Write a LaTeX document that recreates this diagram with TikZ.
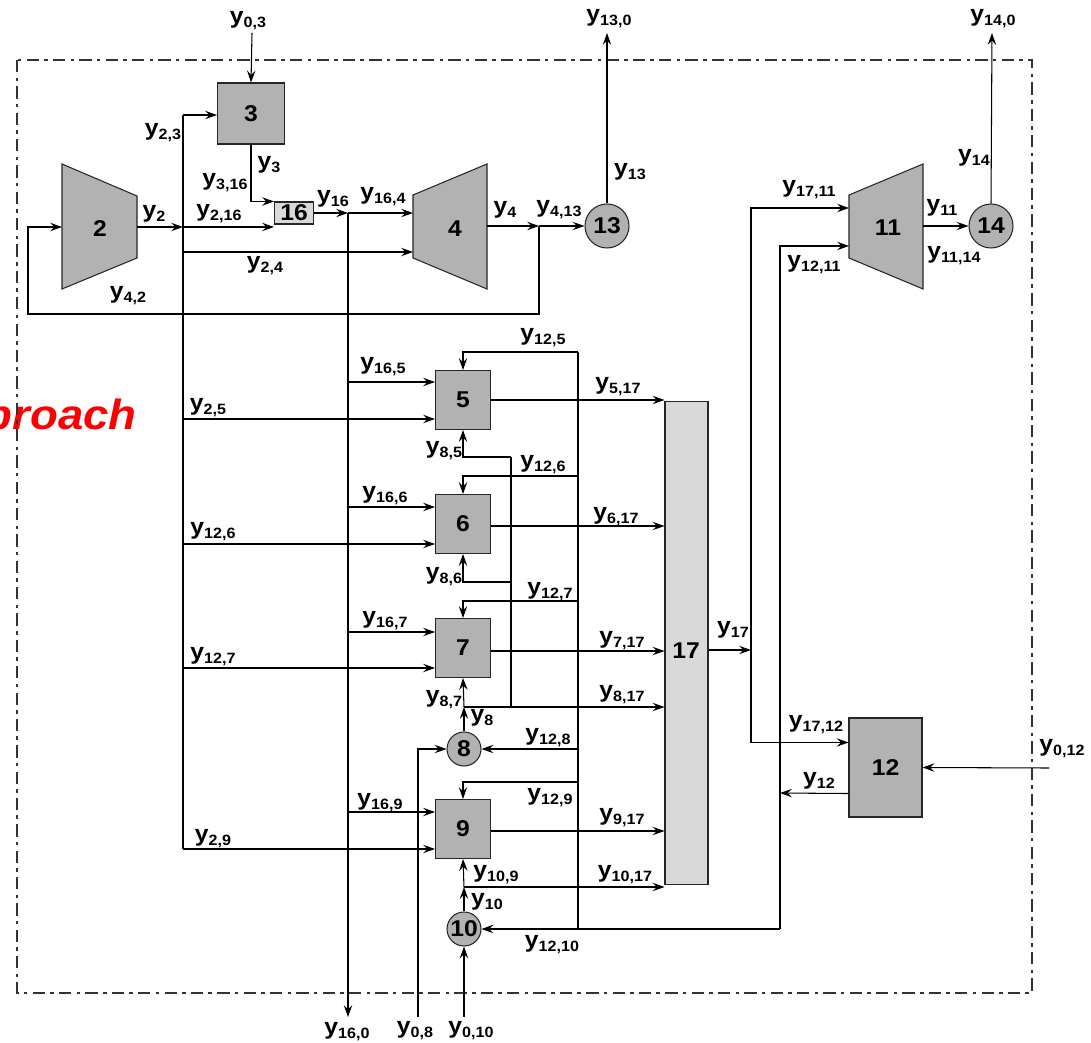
\documentclass[tikz,border=0pt]{standalone}
\usepackage{fontspec}
\setmainfont{Liberation Sans}[FakeStretch=1.08]
\usetikzlibrary{arrows.meta,calc}
\newcommand\yl[1]{{\fontsize{13}{13}\selectfont y}\raisebox{-2.3pt}{\fontsize{8.5}{9}\selectfont #1}}
\tikzset{
  ln/.style={line width=0.6pt},
  arr/.style={line width=0.6pt, -{Stealth[length=6.8pt,width=4.8pt,inset=2.5pt]}},
  shp/.style={draw=black!85, fill=black!30, line width=0.6pt},
  blk/.style={shp, inner sep=0pt, font=\fontsize{13}{13}\bfseries},
  lgt/.style={blk, fill=black!15},
  rnd/.style={blk, circle},
  lab/.style={inner sep=0pt, font=\bfseries},
  nlab/.style={inner sep=0pt, font=\fontsize{13}{13}\bfseries},
  frm/.style={draw=black!80, line width=0.6pt, dash pattern=on 7pt off 3pt on 2pt off 3pt},
}
\begin{document}
\begin{tikzpicture}[x=0.02cm, y=-0.02cm]
\useasboundingbox (0,0) rectangle (1091,1043);

% red partial title
\node[anchor=base east, inner sep=0pt, text=red, font=\fontsize{24}{24}\bfseries\itshape] (apr) at (137,429) {proach};

% frame
\draw[frm] (17,60) rectangle (1032,993);

% ---------- units ----------
\draw[shp] (62,164) -- (137,196) -- (137,258) -- (62,289) -- cycle;
\node[nlab] (n2) at (100,229) {2};
\coordinate (n2in) at (62,227);
\coordinate (n2out) at (137,227);

\draw[shp] (413,195) -- (487,164) -- (487,289) -- (413,258) -- cycle;
\node[nlab] (n4) at (455,229) {4};
\coordinate (n4a) at (413,213);
\coordinate (n4b) at (413,252);
\coordinate (n4out) at (487,226);

\draw[shp] (849,195) -- (923,164) -- (923,289) -- (849,258) -- cycle;
\node[nlab] (n11) at (888,228) {11};
\coordinate (n11a) at (849,208);
\coordinate (n11b) at (849,246);
\coordinate (n11out) at (923,226);

\node[blk, minimum width=1.34cm, minimum height=1.22cm] (n3) at (251,113.5) {3};
\node[lgt, minimum width=0.78cm, minimum height=0.44cm] (n16) at (294,213) {16};
\node[blk, minimum width=1.1cm, minimum height=1.18cm] (n5) at (463,400) {5};
\node[blk, minimum width=1.1cm, minimum height=1.18cm] (n6) at (463,524) {6};
\node[blk, minimum width=1.1cm, minimum height=1.18cm] (n7) at (463,648) {7};
\node[blk, minimum width=1.1cm, minimum height=1.18cm] (n9) at (463,829) {9};
\node[lgt, minimum width=0.86cm, minimum height=9.68cm] (n17) at (686.5,643) {};
\node[nlab] (t17) at (686,651) {17};
\node[blk, minimum width=1.46cm, minimum height=1.98cm] (n12) at (885.5,767.5) {12};
\node[rnd, minimum size=0.88cm] (n13) at (607,226) {13};
\node[rnd, minimum size=0.88cm] (n14) at (991,226) {14};
\node[rnd, minimum size=0.68cm] (n8) at (464,749) {8};
\node[rnd, minimum size=0.68cm] (n10) at (464,929) {10};

% ---------- coordinates ----------
\coordinate (i03) at (252,33);
\coordinate (j2) at (183,227);
\coordinate (j2top) at (183,115);
\coordinate (j2bot) at (183,849);
\coordinate (j24) at (183,252);
\coordinate (j25) at (183,419);
\coordinate (j26) at (183,544);
\coordinate (j27) at (183,668);
\coordinate (j16) at (348,213);
\coordinate (o160) at (348,1017);
\coordinate (c165) at (348,382);
\coordinate (c166) at (348,507);
\coordinate (c167) at (348,632);
\coordinate (c169) at (348,812);
\coordinate (j4) at (539,226);
\coordinate (lpl) at (28,314);
\coordinate (o130) at (607,33);
\coordinate (o140) at (992,33);
\coordinate (j17) at (751,650);
\coordinate (j12) at (780,793);
\coordinate (b12) at (780,929);
\coordinate (t5) at (578,352);
\coordinate (t6) at (578,476);
\coordinate (t7) at (578,601);
\coordinate (t8) at (578,749);
\coordinate (t9) at (578,782);
\coordinate (t10) at (578,929);
\coordinate (j8) at (464,707);
\coordinate (k8) at (511,707);
\coordinate (k5) at (511,457);
\coordinate (k6) at (511,582);
\coordinate (i08) at (418,1017);
\coordinate (i010) at (464,1017);
\coordinate (j10) at (464,887);
\coordinate (i012) at (1049,768);

% ---------- connectors ----------
\draw[arr] (i03) -- (n3.north);
\draw[arr] (n2out) -- (j2);
\draw[ln] (j2top) -- (j2bot);
\draw[arr] (j2top) -- (j2top -| n3.west);
\draw[arr] (j2) -- (j2 -| n16.west);
\draw[arr] (n3.south) |- (n16.north west);
\draw[arr] (j24) -- (n4b);
\draw[arr] (n16.east) -- (j16);
\draw[arr] (j16) -- (n4a);
\draw[arr] (j16) -- (o160);
\draw[arr] (c165) -- (c165 -| n5.west);
\draw[arr] (c166) -- (c166 -| n6.west);
\draw[arr] (c167) -- (c167 -| n7.west);
\draw[arr] (c169) -- (c169 -| n9.west);
\draw[arr] (j25) -- (j25 -| n5.west);
\draw[arr] (j26) -- (j26 -| n6.west);
\draw[arr] (j27) -- (j27 -| n7.west);
\draw[arr] (j2bot) -- (j2bot -| n9.west);
\draw[arr] (n4out) -- (j4);
\draw[arr] (j4) -- (n13.west);
\draw[arr] (j4) |- (lpl) |- (n2in);
\draw[arr] (n13.north) -- (o130);
\draw[arr] (n11out) -- (n14.west);
\draw[arr] (n14.north) -- (o140);
\draw[arr] (j17 -| n17.east) -- (j17);
\draw[arr] (j17) |- (n11a);
\draw[arr] (j17) |- ($(n12.north west)+(0,25)$);
\draw[arr] ($(n12.south west)+(0,-24)$) -- (j12);
\draw[arr] (j12) |- (n11b);
\draw[ln] (j12) -- (b12);
\draw[arr] (b12) -- (n10.east);
\draw[ln] (t5) -- (t10);
\draw[arr] (t5) -| (n5.north);
\draw[arr] (t6) -| (n6.north);
\draw[arr] (t7) -| (n7.north);
\draw[arr] (t8) -- (n8.east);
\draw[arr] (t9) -| (n9.north);
\draw[arr] (n8.north) -- (j8);
\draw[arr] (j8) -- (n7.south);
\draw[arr] (j8) -- (j8 -| n17.west);
\draw[ln] (k8) -- (k5);
\draw[arr] (k5) -| (n5.south);
\draw[arr] (k6) -| (n6.south);
\draw[arr] (i08) |- (n8.west);
\draw[arr] (i010) -- (n10.south);
\draw[arr] (n10.north) -- (j10);
\draw[arr] (j10) -- (n9.south);
\draw[arr] (j10) -- (j10 -| n17.west);
\draw[arr] (n5.east) -- (n5.east -| n17.west);
\draw[arr] ($(n6.east)+(0,2)$) -- ($(n6.east -| n17.west)+(0,2)$);
\draw[arr] ($(n7.east)+(0,3)$) -- ($(n7.east -| n17.west)+(0,3)$);
\draw[arr] ($(n9.east)+(0,2)$) -- ($(n9.east -| n17.west)+(0,2)$);
\draw[arr] (i012) -- (n12.east);

% ---------- labels ----------
\node[lab] (l03) at (248,21) {\yl{0,3}};
\node[lab] (l23) at (163,133) {\yl{2,3}};
\node[lab] (l3) at (269,165) {\yl{3}};
\node[lab] (l316) at (225,183) {\yl{3,16}};
\node[lab] (l16) at (333,199) {\yl{16}};
\node[lab] (l2) at (154,214) {\yl{2}};
\node[lab] (l216) at (219,214) {\yl{2,16}};
\node[lab] (l24) at (265,266) {\yl{2,4}};
\node[lab] (l42) at (128,296) {\yl{4,2}};
\node[lab] (l164) at (383,197) {\yl{16,4}};
\node[lab] (l4) at (505,210) {\yl{4}};
\node[lab] (l413) at (559,210) {\yl{4,13}};
\node[lab] (l13) at (630,172) {\yl{13}};
\node[lab] (l130) at (609,19) {\yl{13,0}};
\node[lab] (l140) at (993,19) {\yl{14,0}};
\node[lab] (l14) at (974,158) {\yl{14}};
\node[lab] (l1711) at (809,190) {\yl{17,11}};
\node[lab] (l1211) at (814,265) {\yl{12,11}};
\node[lab] (l11) at (942,208) {\yl{11}};
\node[lab] (l1114) at (954,256) {\yl{11,14}};
\node[lab] (l125) at (543,338) {\yl{12,5}};
\node[lab] (l165) at (383,367) {\yl{16,5}};
\node[lab] (l517) at (618,387) {\yl{5,17}};
\node[lab] (l85) at (444,451) {\yl{8,5}};
\node[lab] (l126r) at (543,465) {\yl{12,6}};
\node[lab] (l166) at (385,496) {\yl{16,6}};
\node[lab] (l617) at (616,517) {\yl{6,17}};
\node[lab] (l86) at (444,577) {\yl{8,6}};
\node[lab] (l127r) at (550,592) {\yl{12,7}};
\node[lab] (l167) at (385,621) {\yl{16,7}};
\node[lab] (l717) at (622,641) {\yl{7,17}};
\node[lab] (l25) at (208,408) {\yl{2,5}};
\node[lab] (l126l) at (213,532) {\yl{12,6}};
\node[lab] (l127l) at (213,657) {\yl{12,7}};
\node[lab] (l87) at (444,700) {\yl{8,7}};
\node[lab] (l817) at (622,695) {\yl{8,17}};
\node[lab] (l8) at (482,718) {\yl{8}};
\node[lab] (l128) at (548,738) {\yl{12,8}};
\node[lab] (l129) at (550,798) {\yl{12,9}};
\node[lab] (l169) at (380,803) {\yl{16,9}};
\node[lab] (l917) at (622,818) {\yl{9,17}};
\node[lab] (l29) at (213,839) {\yl{2,9}};
\node[lab] (l109) at (496,875) {\yl{10,9}};
\node[lab] (l1017) at (625,875) {\yl{10,17}};
\node[lab] (l10) at (487,902) {\yl{10}};
\node[lab] (l1210) at (552,945) {\yl{12,10}};
\node[lab] (l160) at (347,1032) {\yl{16,0}};
\node[lab] (l08) at (415,1031) {\yl{0,8}};
\node[lab] (l010) at (471,1031) {\yl{0,10}};
\node[lab] (l17) at (733,630) {\yl{17}};
\node[lab] (l1712) at (816,725) {\yl{17,12}};
\node[lab] (l12) at (819,781) {\yl{12}};
\node[lab] (l012) at (1062,749) {\yl{0,12}};
\end{tikzpicture}
\end{document}
